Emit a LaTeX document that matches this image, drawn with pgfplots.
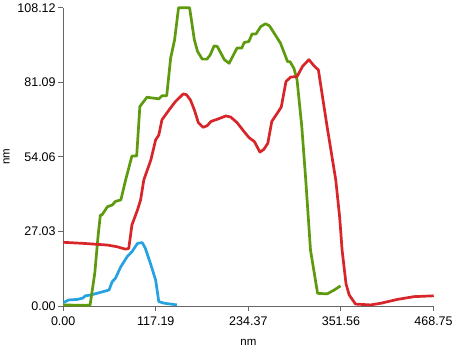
\documentclass[border=0pt]{standalone}
\usepackage{pgfplots}
\pgfplotsset{compat=1.18}
\usepackage{fontspec}
\setmainfont{Liberation Sans}
\definecolor{cgreen}{HTML}{5E9A0E}
\definecolor{cred}{HTML}{D7252A}
\definecolor{cblue}{HTML}{27A2E0}
\definecolor{axgray}{HTML}{666666}
\begin{document}
\begin{tikzpicture}[x=1pt,y=1pt]
\begin{axis}[
  scale only axis,
  width=370pt, height=298pt,
  xmin=0, xmax=468.75, ymin=0, ymax=108.12,
  axis x line*=bottom, axis y line*=left,
  axis line style={axgray, line width=1pt, -},
  tick align=outside,
  major tick length=5pt,
  tick style={axgray, line width=1pt},
  xtick={0,117.19,234.37,351.56,468.75},
  xticklabels={0.00,117.19,234.37,351.56,468.75},
  ytick={0,27.03,54.06,81.09,108.12},
  yticklabels={0.00,27.03,54.06,81.09,108.12},
  ticklabel style={font=\fontsize{12.5}{14}\selectfont, black},
  xticklabel style={yshift=-2pt},
  yticklabel style={xshift=1pt},
  xlabel={nm}, ylabel={nm},
  label style={font=\fontsize{11.5}{13}\selectfont, black},
  xlabel style={yshift=-7pt},
  ylabel style={yshift=1pt},
  clip=false,
  every axis plot/.append style={line width=2.7pt, line join=round, no markers},
]
% blue
\addplot[cblue] coordinates {
(0,1.2) (7,2.2) (18,2.4) (25,2.9) (28,3.7) (35,4.0) (58,5.8) (62,8.8) (66,10)
(73,14.3) (81,17.9) (87,19.7) (94,22.7) (100,23) (104,20.9) (111,14.9) (117,9.4)
(121,1.6) (128,1.0) (144,0.4)
};
% green
\addplot[cgreen] coordinates {
(0,0.4) (15,0.3) (28,0.3) (34,0.3) (40,12) (44,25) (47,33) (49,33) (56,36) (62,36.6)
(66,37.9) (73,38.5) (79,45.7) (87,54.4) (93,54.4) (97,72.3) (106,75.7) (113,75.4)
(121,75.1) (125,76.2) (131,76.2) (136,89.9) (141,96.5) (146,108.1) (160,108.1)
(166,96.5) (170,92.3) (176,89.5) (182,89.5) (186,91) (191,94.3) (195,94.1)
(204,89.3) (210,88) (220,93.5) (226,93.5) (229,95.5) (235,95.9) (239,98.6)
(244,98.6) (250,101.3) (256,102.3) (261,101.6) (267,98.9) (275,95.3) (284,88.6)
(287,88.6) (292,86.2) (296,82) (302,65) (307,45.7) (313,20.3) (322,4.6) (334,4.4)
(343,5.8) (351,7.3)
};
% red
\addplot[cred] coordinates {
(0,23.1) (26,22.7) (56,22.1) (68,21.5) (79,20.6) (83,20.9) (87,29.4) (94,34.8)
(98,38.5) (102,45.7) (111,53) (117,60.2) (121,62) (125,67.5) (134,71.1) (142,74.1)
(152,76.9) (156,76.6) (161,74.7) (166,71.1) (171,66.5) (177,64.8) (182,65.3)
(187,66.9) (195,67.7) (206,68.9) (212,68.5) (220,66.5) (229,63.2) (235,61.1)
(242,59.6) (249,55.8) (254,56.8) (259,59) (264,66.9) (271,69.9) (276,72.1)
(282,81.4) (288,83) (296,83.2) (303,86.9) (311,89.3) (318,86.9) (323,85.6)
(334,65.1) (345,45.7) (350,32) (353,20.3) (358,8) (362,4) (370,0.7) (389,0.4)
(402,1.0) (423,2.4) (444,3.4) (469,3.7)
};
\end{axis}
\end{tikzpicture}
\end{document}
